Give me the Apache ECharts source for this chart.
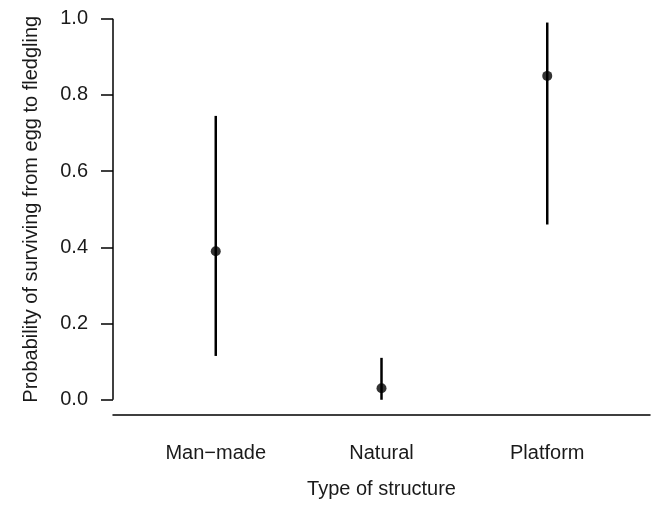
<!DOCTYPE html>
<html>
<head>
<meta charset="utf-8">
<script src="https://cdn.jsdelivr.net/npm/echarts@6/dist/echarts.min.js"></script>
<style>
html,body{margin:0;padding:0;background:#fff;}
#c{width:659px;height:515px;}
</style>
</head>
<body>
<div id="c"></div>
<script>
var categories = ['Man\u2212made', 'Natural', 'Platform'];
var positions = [1, 2, 3];
var estimate = [0.39, 0.03, 0.85];
var lower = [0.115, 0.0, 0.46];
var upper = [0.745, 0.11, 0.99];
var yTicks = [0, 0.2, 0.4, 0.6, 0.8, 1.0];
var xMin = 0.38, xMax = 3.62;
var yMin = -0.04, yMax = 1.04;

var chart = echarts.init(document.getElementById('c'));
var font = 'Liberation Sans, Arial, sans-serif';
var txt = '#1a1a1a';

var barData = positions.map(function (p, i) { return [p, lower[i], upper[i]]; });
var ptData = positions.map(function (p, i) { return [p, estimate[i]]; });

chart.setOption({
  animation: false,
  backgroundColor: '#fff',
  grid: { left: 113, right: 9, top: 3.5, bottom: 100 },
  xAxis: {
    type: 'value', min: xMin, max: xMax,
    name: 'Type of structure', nameLocation: 'middle', nameGap: 64,
    nameTextStyle: { fontSize: 20, color: txt, fontFamily: font },
    axisLine: { show: true, onZero: false, lineStyle: { color: '#000', width: 1.5 } },
    axisTick: { show: false },
    splitLine: { show: false },
    axisLabel: {
      customValues: positions, margin: 28,
      fontSize: 20, color: txt, fontFamily: font,
      formatter: function (v) { var i = positions.indexOf(v); return i >= 0 ? categories[i] : ''; }
    }
  },
  yAxis: {
    type: 'value', min: yMin, max: yMax,
    name: 'Probability of surviving from egg to fledgling', nameLocation: 'middle', nameGap: 72,
    nameTextStyle: { fontSize: 20, color: txt, fontFamily: font },
    axisLine: { show: false },
    axisTick: { show: true, customValues: yTicks, length: 12, lineStyle: { color: '#000', width: 1.5 } },
    splitLine: { show: false },
    axisLabel: {
      customValues: yTicks, margin: 25,
      fontSize: 20, color: txt, fontFamily: font,
      formatter: function (v) { return v.toFixed(1); }
    }
  },
  series: [
    {
      type: 'line', silent: true, symbol: 'none', clip: false,
      data: [[xMin, yTicks[0]], [xMin, yTicks[yTicks.length - 1]]],
      lineStyle: { color: '#000', width: 1.5 }
    },
    {
      type: 'custom', silent: true, clip: false,
      data: barData,
      renderItem: function (params, api) {
        var a = api.coord([api.value(0), api.value(1)]);
        var b = api.coord([api.value(0), api.value(2)]);
        return { type: 'line', shape: { x1: a[0], y1: a[1], x2: b[0], y2: b[1] },
                 style: { stroke: '#000', lineWidth: 2.5 } };
      }
    },
    {
      type: 'scatter', silent: true, symbol: 'circle', symbolSize: 10,
      data: ptData, itemStyle: { color: '#000' }
    }
  ]
});
</script>
</body>
</html>
